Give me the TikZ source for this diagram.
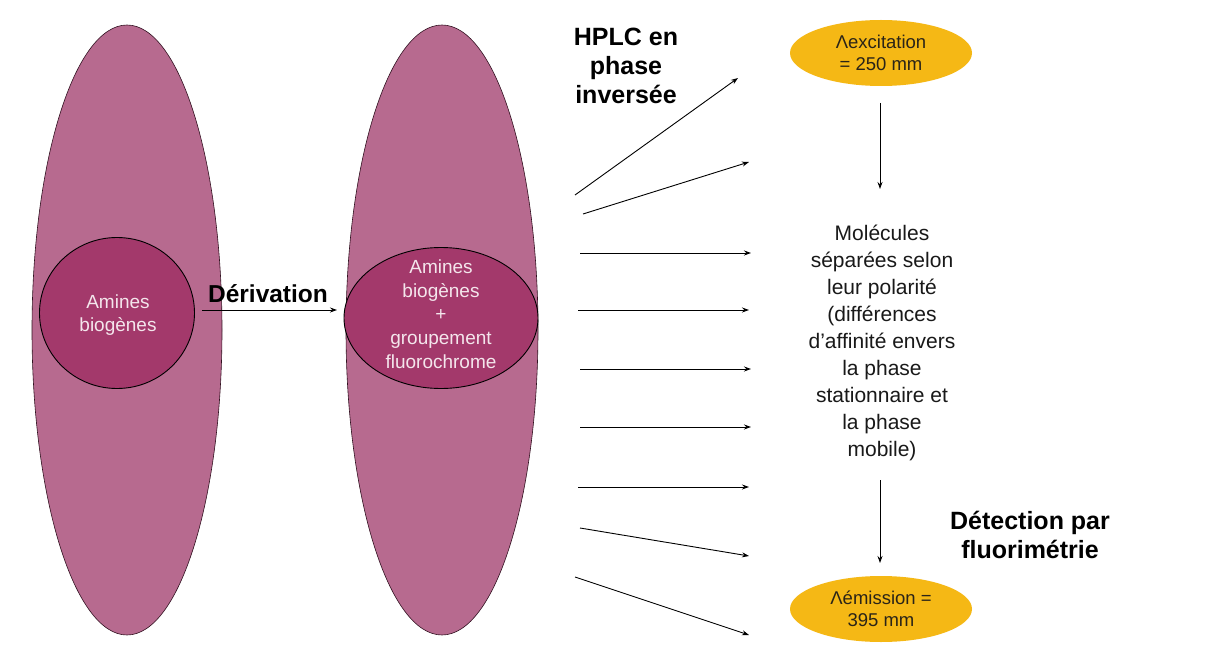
\documentclass[tikz,border=0pt]{standalone}
\usepackage{fontspec}
\setmainfont{Liberation Sans}
\usetikzlibrary{shapes.geometric,arrows.meta}
\definecolor{rosebig}{HTML}{B76A8F}
\definecolor{rosein}{HTML}{A3396B}
\definecolor{goldfill}{HTML}{F5B815}
\definecolor{paletext}{HTML}{F4E6EC}
\definecolor{darktext}{HTML}{2A2418}
\tikzset{
  bigell/.style={ellipse, draw=black!70!rosein, line width=0.6pt, fill=rosebig, minimum width=190pt, minimum height=610pt, inner sep=0pt},
  inell/.style={ellipse, draw=black, line width=0.9pt, fill=rosein, inner sep=0pt, text=paletext, align=center, font=\fontsize{19}{23.75}\selectfont},
  goldell/.style={ellipse, fill=goldfill, minimum width=182pt, minimum height=66pt, inner sep=0pt, text=darktext, align=center, font=\fontsize{18.5}{22.5}\selectfont},
  boldlab/.style={align=center, font=\fontsize{25}{29}\selectfont\bfseries, text=black},
  bodylab/.style={align=center, font=\fontsize{21}{27}\selectfont, text=black!90},
  arr/.style={-{Stealth[length=7pt,width=5pt]}, line width=0.9pt, black}
}
\begin{document}
\begin{tikzpicture}[x=1pt,y=-1pt]
\useasboundingbox (0,0) rectangle (1207,671);
\fill[white] (0,0) rectangle (1207,671);
% big ellipses
\node[bigell] (b1) at (127,330) {};
\node[bigell, minimum width=192pt] (b2) at (442,330) {};
% inner ones
\node[inell, minimum width=155pt, minimum height=151pt] (c1) at (117,313) {};
\node[inell, draw=none, fill=none] (t1) at (118,315) {Amines\\biogènes};
\node[inell, minimum width=194pt, minimum height=141pt] (c2) at (441,318) {};
\node[inell, draw=none, fill=none] (t2) at (441,314) {Amines\\biogènes\\+\\groupement\\fluorochrome};
% derivation
\coordinate (d1) at (202,310);
\coordinate (d2) at (337,310);
\draw[arr] (d1) -- (d2);
\node[boldlab, font=\fontsize{24.5}{28}\selectfont\bfseries] (der) at (268,294) {Dérivation};
% HPLC label
\node[boldlab] (hplc) at (626,66) {HPLC en\\phase\\inversée};
% fan of arrows
\coordinate (s1) at (575,195); \coordinate (e1) at (738,78);
\coordinate (s2) at (583,214); \coordinate (e2) at (749,162);
\coordinate (s3) at (580,253); \coordinate (e3) at (751,253);
\coordinate (s4) at (578,310); \coordinate (e4) at (749,310);
\coordinate (s5) at (580,369); \coordinate (e5) at (751,369);
\coordinate (s6) at (580,427); \coordinate (e6) at (751,427);
\coordinate (s7) at (578,487); \coordinate (e7) at (749,487);
\coordinate (s8) at (580,528); \coordinate (e8) at (749,556);
\coordinate (s9) at (575,577); \coordinate (e9) at (749,635);
\foreach \i in {1,...,9} { \draw[arr] (s\i) -- (e\i); }
% gold ellipses
\node[goldell] (exc) at (881,53) {Λexcitation\\= 250 mm};
\node[goldell] (emi) at (881,609) {Λémission =\\395 mm};
% central text
\node[bodylab] (mol) at (882,343) {Molécules\\séparées selon\\leur polarité\\(différences\\d’affinité envers\\la phase\\stationnaire et\\la phase\\mobile)};
\coordinate (v1) at (880,103);
\coordinate (v2) at (880,189);
\draw[arr] (v1) -- (v2);
\coordinate (v3) at (880,480);
\coordinate (v4) at (880,563);
\draw[arr] (v3) -- (v4);
\node[boldlab] (det) at (1030,535) {Détection par\\fluorimétrie};
\end{tikzpicture}
\end{document}
